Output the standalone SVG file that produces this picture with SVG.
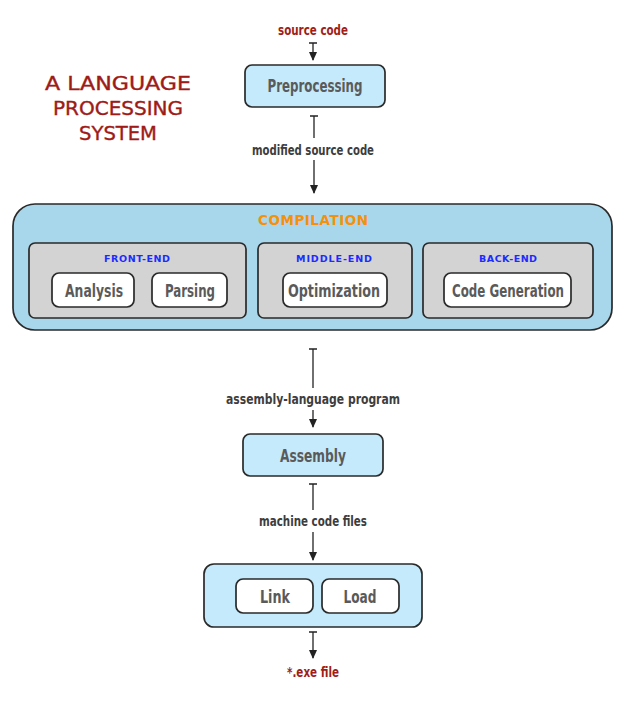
<svg xmlns="http://www.w3.org/2000/svg" width="629" height="706" viewBox="0 0 629 706">
<defs>
<marker id="arr" markerWidth="10" markerHeight="10" refX="8" refY="5" orient="auto" markerUnits="userSpaceOnUse">
<path d="M0,1 L9,5 L0,9 Z" fill="#222"/>
</marker>
<marker id="tee" markerWidth="10" markerHeight="10" refX="1" refY="5" orient="auto" markerUnits="userSpaceOnUse">
<path d="M1,1 L1,9" stroke="#222" stroke-width="1.5"/>
</marker>
<style>
.conn{stroke:#222;stroke-width:1.3;fill:none;marker-start:url(#tee);marker-end:url(#arr)}
.box{stroke:#2a2a2a;stroke-width:1.7}
.blue{fill:#c4eafb}
.comp{fill:#a8d6ea}
.gray{fill:#d3d3d3}
.white{fill:#ffffff}
.node{font-family:"DejaVu Sans Condensed","DejaVu Sans",sans-serif;font-weight:bold;font-size:18px;fill:#5a5a5a;text-anchor:middle}
.lab{font-family:"DejaVu Sans Condensed","DejaVu Sans",sans-serif;font-weight:bold;font-size:14px;fill:#3d3d3d;text-anchor:middle}
.red{font-family:"DejaVu Sans Condensed","DejaVu Sans",sans-serif;font-weight:bold;font-size:14px;fill:#a01e16;text-anchor:middle}
.title{font-family:"DejaVu Sans","Liberation Sans",sans-serif;font-size:20px;fill:#9e1b17;text-anchor:middle;stroke:#9e1b17;stroke-width:0.4}
.sec{font-family:"DejaVu Sans","Liberation Sans",sans-serif;font-weight:bold;font-size:9.5px;fill:#1a2cff;text-anchor:middle}
.comptitle{font-family:"DejaVu Sans","Liberation Sans",sans-serif;font-weight:bold;font-size:13.5px;fill:#f5900a;text-anchor:middle}
</style>
</defs>

<g id="title">
<text class="title" x="118" y="90" textLength="146" lengthAdjust="spacingAndGlyphs">A LANGUAGE</text>
<text class="title" x="118" y="115" textLength="130" lengthAdjust="spacingAndGlyphs">PROCESSING</text>
<text class="title" x="118" y="140" textLength="78" lengthAdjust="spacingAndGlyphs">SYSTEM</text>
</g>

<g id="connectors">
<line class="conn" x1="313" y1="43" x2="313" y2="60"/>
<line class="conn" x1="314" y1="116" x2="314" y2="193"/>
<line class="conn" x1="313" y1="349" x2="313" y2="427"/>
<line class="conn" x1="313" y1="484" x2="313" y2="560"/>
<line class="conn" x1="313" y1="632" x2="313" y2="658"/>
<rect x="240" y="138" width="150" height="22" fill="#fff"/>
<text class="lab" x="313" y="155" textLength="122" lengthAdjust="spacingAndGlyphs">modified source code</text>
<rect x="220" y="388" width="186" height="22" fill="#fff"/>
<text class="lab" x="313" y="404" textLength="174" lengthAdjust="spacingAndGlyphs">assembly-language program</text>
<rect x="250" y="510" width="126" height="22" fill="#fff"/>
<text class="lab" x="313" y="526" textLength="108" lengthAdjust="spacingAndGlyphs">machine code files</text>
</g>

<g id="source">
<text class="red" x="313" y="35" textLength="70" lengthAdjust="spacingAndGlyphs">source code</text>
</g>

<g id="preprocessing">
<rect class="box blue" x="245" y="65" width="140" height="42" rx="7"/>
<text class="node" x="315" y="92" textLength="95" lengthAdjust="spacingAndGlyphs">Preprocessing</text>
</g>

<g id="compilation">
<rect class="box comp" x="13" y="204" width="599" height="126" rx="22"/>
<text class="comptitle" x="313" y="225" textLength="110" lengthAdjust="spacing">COMPILATION</text>
</g>

<g id="front-end">
<rect class="box gray" x="29" y="243" width="217" height="75" rx="6"/>
<text class="sec" x="137" y="262" textLength="66" lengthAdjust="spacing">FRONT-END</text>
</g>
<g id="analysis">
<rect class="box white" x="52" y="273" width="82" height="34" rx="7"/>
<text class="node" x="94" y="297" textLength="58" lengthAdjust="spacingAndGlyphs">Analysis</text>
</g>
<g id="parsing">
<rect class="box white" x="152" y="273" width="75" height="34" rx="7"/>
<text class="node" x="190" y="297" textLength="50" lengthAdjust="spacingAndGlyphs">Parsing</text>
</g>

<g id="middle-end">
<rect class="box gray" x="258" y="243" width="154" height="75" rx="6"/>
<text class="sec" x="334" y="262" textLength="76" lengthAdjust="spacing">MIDDLE-END</text>
</g>
<g id="optimization">
<rect class="box white" x="283" y="273" width="104" height="34" rx="7"/>
<text class="node" x="334" y="297" textLength="92" lengthAdjust="spacingAndGlyphs">Optimization</text>
</g>

<g id="back-end">
<rect class="box gray" x="423" y="243" width="170" height="75" rx="6"/>
<text class="sec" x="508" y="262" textLength="58" lengthAdjust="spacing">BACK-END</text>
</g>
<g id="code-generation">
<rect class="box white" x="444" y="273" width="127" height="34" rx="7"/>
<text class="node" x="508" y="297" textLength="112" lengthAdjust="spacingAndGlyphs">Code Generation</text>
</g>

<g id="assembly">
<rect class="box blue" x="243" y="434" width="140" height="42" rx="7"/>
<text class="node" x="313" y="462" textLength="66" lengthAdjust="spacingAndGlyphs">Assembly</text>
</g>

<g id="link-load">
<rect class="box blue" x="204" y="564" width="218" height="63" rx="10"/>
</g>
<g id="link">
<rect class="box white" x="236" y="579" width="77" height="34" rx="7"/>
<text class="node" x="275" y="603" textLength="30" lengthAdjust="spacingAndGlyphs">Link</text>
</g>
<g id="load">
<rect class="box white" x="322" y="579" width="77" height="34" rx="7"/>
<text class="node" x="360" y="603" textLength="33" lengthAdjust="spacingAndGlyphs">Load</text>
</g>

<g id="exe">
<text class="red" x="313" y="677" textLength="52" lengthAdjust="spacingAndGlyphs">*.exe file</text>
</g>
</svg>
